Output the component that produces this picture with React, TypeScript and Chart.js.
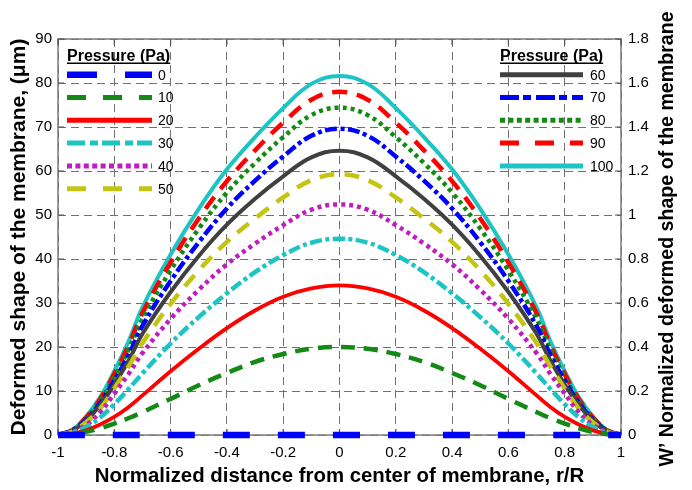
import React, { useEffect, useRef } from "react";
import { Chart, registerables } from "chart.js";

Chart.register(...registerables);

// ---------- data ----------
const radialPositions = [
  -1, -0.95, -0.9, -0.85, -0.8, -0.75, -0.7, -0.6, -0.5, -0.4, -0.3, -0.2, -0.1, 0,
  0.1, 0.2, 0.3, 0.4, 0.5, 0.6, 0.7, 0.75, 0.8, 0.85, 0.9, 0.95, 1,
];

const pressureLabels = ["0", "10", "20", "30", "40", "50", "60", "70", "80", "90", "100"];

const p0 = [0, 0, 0, 0, 0, 0, 0, 0, 0, 0, 0, 0, 0, 0, 0, 0, 0, 0, 0, 0, 0, 0, 0, 0, 0, 0, 0];
const p10 = [0, 0.19, 0.7, 1.54, 2.6, 3.8, 5.2, 8.2, 11.3, 14.1, 16.6, 18.4, 19.6, 20,
  19.6, 18.4, 16.6, 14.1, 11.3, 8.2, 5.2, 3.8, 2.6, 1.54, 0.7, 0.19, 0];
const p20 = [0, 0.28, 1.05, 2.4, 4.1, 6.3, 9.0, 14.5, 19.6, 24.3, 28.3, 31.4, 33.3, 34,
  33.3, 31.4, 28.3, 24.3, 19.6, 14.5, 9.0, 6.3, 4.1, 2.4, 1.05, 0.28, 0];
const p30 = [0, 0.5, 1.8, 4.0, 7.0, 10.4, 14.0, 20.8, 26.8, 32.2, 37.0, 40.9, 43.7, 44.6,
  43.7, 40.9, 37.0, 32.2, 26.8, 20.8, 14.0, 10.4, 7.0, 4.0, 1.8, 0.5, 0];
const p40 = [0, 0.65, 2.3, 5.2, 9.4, 13.8, 18.6, 26.4, 33.0, 38.8, 43.5, 47.7, 51.2, 52.4,
  51.2, 47.7, 43.5, 38.8, 33.0, 26.4, 18.6, 13.8, 9.4, 5.2, 2.3, 0.65, 0];
const p50 = [0, 0.8, 2.9, 6.0, 10.6, 15.5, 20.9, 29.8, 37.4, 43.9, 49.2, 54.0, 57.9, 59.3,
  57.9, 54.0, 49.2, 43.9, 37.4, 29.8, 20.9, 15.5, 10.6, 6.0, 2.9, 0.8, 0];
const p60 = [0, 0.9, 3.3, 6.8, 11.5, 16.8, 23.0, 32.5, 40.7, 47.8, 53.7, 58.8, 63.1, 64.6,
  63.1, 58.8, 53.7, 47.8, 40.7, 32.5, 23.0, 16.8, 11.5, 6.8, 3.3, 0.9, 0];
const p70 = [0, 1.0, 3.5, 7.3, 12.4, 18.1, 24.8, 35.0, 43.8, 51.5, 57.8, 63.3, 68.0, 69.6,
  68.0, 63.3, 57.8, 51.5, 43.8, 35.0, 24.8, 18.1, 12.4, 7.3, 3.5, 1.0, 0];
const p80 = [0, 1.05, 3.8, 7.8, 13.2, 19.3, 26.4, 37.4, 46.9, 55.1, 61.8, 67.7, 72.7, 74.4,
  72.7, 67.7, 61.8, 55.1, 46.9, 37.4, 26.4, 19.3, 13.2, 7.8, 3.8, 1.05, 0];
const p90 = [0, 1.1, 4.0, 8.2, 13.9, 20.3, 27.7, 39.2, 49.2, 57.7, 64.7, 71.0, 76.2, 78.0,
  76.2, 71.0, 64.7, 57.7, 49.2, 39.2, 27.7, 20.3, 13.9, 8.2, 4.0, 1.1, 0];
const p100 = [0, 1.15, 4.2, 8.6, 14.5, 21.2, 29.0, 41.0, 51.4, 60.4, 67.7, 74.3, 79.8, 81.6,
  79.8, 74.3, 67.7, 60.4, 51.4, 41.0, 29.0, 21.2, 14.5, 8.6, 4.2, 1.15, 0];

const seriesValues = [p0, p10, p20, p30, p40, p50, p60, p70, p80, p90, p100];

const xTickValues = [-1, -0.8, -0.6, -0.4, -0.2, 0, 0.2, 0.4, 0.6, 0.8, 1];
const xTickLabels = ["-1", "-0.8", "-0.6", "-0.4", "-0.2", "0", "0.2", "0.4", "0.6", "0.8", "1"];
const yTickValues = [0, 10, 20, 30, 40, 50, 60, 70, 80, 90];
const yTickLabels = ["0", "10", "20", "30", "40", "50", "60", "70", "80", "90"];
const y2TickValues = [0, 0.2, 0.4, 0.6, 0.8, 1, 1.2, 1.4, 1.6, 1.8];
const y2TickLabels = ["0", "0.2", "0.4", "0.6", "0.8", "1", "1.2", "1.4", "1.6", "1.8"];

const xTitle = "Normalized distance from center of membrane, r/R";
const yTitle = "Deformed shape of the membrane, (\u03bcm)";
const y2Title = "W\u2019 Normalized deformed shape of the membrane";
const legendTitle = "Pressure (Pa)";

// ---------- styles ----------
const seriesColors = [
  "#0000ff", "#138a13", "#ff0000", "#1cc4c4", "#c01cc0", "#c4c412",
  "#404040", "#0000ff", "#138a13", "#ff0000", "#1cc4c4",
];
const seriesWidths = [6.5, 4.5, 3.8, 4.5, 4.5, 4.5, 4, 4.5, 4.5, 4.5, 4];
const seriesDash: number[][] = [
  [27, 28], [14, 9], [], [12, 3.5, 4, 3.5], [4, 4], [15, 10],
  [], [12, 3.5, 4, 3.5], [4, 4], [15, 10], [],
];
const legendDash: number[][] = [
  [30, 28], [19, 17], [], [18, 5, 8, 4], [5, 3.4], [19, 17],
  [], [19, 4, 8, 5], [5, 3.4], [19, 16], [],
];

const FONT = "'Liberation Sans', Arial, sans-serif";

const legendPlugin = {
  id: "pressureLegends",
  afterDatasetsDraw(chart: any) {
    const ctx = chart.ctx as CanvasRenderingContext2D;
    const groups = [
      { x: 67, sampleW: 85, labelX: 158, idx: [0, 1, 2, 3, 4, 5] },
      { x: 500, sampleW: 83, labelX: 590, idx: [6, 7, 8, 9, 10] },
    ];
    ctx.save();
    groups.forEach((g) => {
      ctx.font = `bold 16px ${FONT}`;
      ctx.fillStyle = "#000";
      ctx.textAlign = "left";
      ctx.textBaseline = "alphabetic";
      ctx.fillText(legendTitle, g.x, 61);
      const tw = ctx.measureText(legendTitle).width;
      ctx.fillRect(g.x, 62.5, tw, 1.5);
      g.idx.forEach((si, k) => {
        const y = 74.7 + k * 22.8;
        ctx.beginPath();
        ctx.setLineDash(legendDash[si]);
        ctx.lineDashOffset = 0;
        ctx.lineCap = "butt";
        ctx.strokeStyle = seriesColors[si];
        ctx.lineWidth = si === 0 ? 6.5 : 5;
        ctx.moveTo(g.x, y);
        ctx.lineTo(g.x + g.sampleW, y);
        ctx.stroke();
        ctx.setLineDash([]);
        ctx.font = `14px ${FONT}`;
        ctx.fillStyle = "#000";
        ctx.textBaseline = "middle";
        ctx.fillText(pressureLabels[si], g.labelX, y + 1);
      });
    });
    ctx.restore();
  },
};

const framePlugin = {
  id: "frameAndTicks",
  beforeDatasetsDraw(chart: any) {
    const ctx = chart.ctx as CanvasRenderingContext2D;
    const { left, right, top, bottom } = chart.chartArea;
    ctx.save();
    ctx.setLineDash([]);
    ctx.strokeStyle = "#7a7a7a";
    ctx.lineWidth = 1.5;
    ctx.strokeRect(left, top, right - left, bottom - top);
    ctx.lineWidth = 1.2;
    ctx.strokeStyle = "#555";
    const xs = chart.scales.x;
    const ys = chart.scales.y;
    ctx.beginPath();
    xTickValues.forEach((v) => {
      const px = xs.getPixelForValue(v);
      ctx.moveTo(px, top);
      ctx.lineTo(px, top + 6);
      ctx.moveTo(px, bottom);
      ctx.lineTo(px, bottom - 6);
    });
    yTickValues.forEach((v) => {
      const py = ys.getPixelForValue(v);
      ctx.moveTo(left, py);
      ctx.lineTo(left + 6, py);
      ctx.moveTo(right, py);
      ctx.lineTo(right - 6, py);
    });
    ctx.stroke();
    ctx.restore();
  },
  afterDraw(chart: any) {
    const ctx = chart.ctx as CanvasRenderingContext2D;
    const { top, bottom } = chart.chartArea;
    ctx.save();
    ctx.translate(668, (top + bottom) / 2 + 2);
    ctx.rotate(-Math.PI / 2);
    ctx.font = `bold 19.6px ${FONT}`;
    ctx.fillStyle = "#000";
    ctx.textAlign = "center";
    ctx.textBaseline = "middle";
    ctx.fillText(y2Title, 0, 0);
    ctx.restore();
  },
};

export default function App() {
  const canvasRef = useRef<HTMLCanvasElement | null>(null);

  useEffect(() => {
    document.body.style.margin = "0";
    const canvas = canvasRef.current;
    if (!canvas) return;

    const datasets = seriesValues.map((vals, i) => ({
      label: pressureLabels[i],
      data: vals.map((v, j) => ({ x: radialPositions[j], y: v })),
      borderColor: seriesColors[i],
      backgroundColor: seriesColors[i],
      borderWidth: seriesWidths[i],
      borderDash: seriesDash[i],
      borderCapStyle: "butt" as const,
      pointRadius: 0,
      fill: false,
      tension: 0.4,
      clip: false as any,
      yAxisID: "y",
    }));

    const gridCfg = { color: "#707070", lineWidth: 1, drawTicks: false };
    const borderCfg = { display: false, dash: [8, 5] };

    const chart = new Chart(canvas, {
      type: "line",
      data: { datasets },
      plugins: [framePlugin, legendPlugin],
      options: {
        animation: false,
        responsive: false,
        devicePixelRatio: 1,
        layout: { padding: { top: 39, left: 0, right: 0, bottom: 0 } },
        plugins: { legend: { display: false }, tooltip: { enabled: false } },
        scales: {
          x: {
            type: "linear",
            min: -1,
            max: 1,
            grid: gridCfg,
            border: borderCfg,
            afterBuildTicks: (s: any) => {
              s.ticks = xTickValues.map((v) => ({ value: v }));
            },
            afterFit: (s: any) => {
              s.height = 55;
            },
            ticks: {
              padding: 9,
              color: "#000",
              font: { family: FONT, size: 15 },
              maxRotation: 0,
              autoSkip: false,
              callback: (_v: any, i: number) => xTickLabels[i],
            },
            title: {
              display: true,
              text: xTitle,
              color: "#000",
              font: { family: FONT, size: 20.4, weight: "bold" },
              padding: { top: 0, bottom: 1 },
            },
          },
          y: {
            type: "linear",
            position: "left",
            min: 0,
            max: 90,
            grid: gridCfg,
            border: borderCfg,
            afterBuildTicks: (s: any) => {
              s.ticks = yTickValues.map((v) => ({ value: v }));
            },
            afterFit: (s: any) => {
              s.width = 58;
            },
            ticks: {
              padding: 6,
              color: "#000",
              font: { family: FONT, size: 15 },
              autoSkip: false,
              callback: (_v: any, i: number) => yTickLabels[i],
            },
            title: {
              display: true,
              text: yTitle,
              color: "#000",
              font: { family: FONT, size: 21, weight: "bold" },
              padding: { top: 7, bottom: 0 },
            },
          },
          y2: {
            type: "linear",
            position: "right",
            min: 0,
            max: 1.8,
            grid: { display: false, drawTicks: false },
            border: { display: false },
            afterBuildTicks: (s: any) => {
              s.ticks = y2TickValues.map((v) => ({ value: v }));
            },
            afterFit: (s: any) => {
              s.width = 71;
            },
            ticks: {
              padding: 7,
              color: "#000",
              font: { family: FONT, size: 15 },
              autoSkip: false,
              callback: (_v: any, i: number) => y2TickLabels[i],
            },
          },
        },
      },
    });

    return () => {
      chart.destroy();
    };
  }, []);

  return (
    <div style={{ width: 692, height: 490, background: "#fff" }}>
      <canvas ref={canvasRef} width={692} height={490} style={{ display: "block" }} />
    </div>
  );
}
